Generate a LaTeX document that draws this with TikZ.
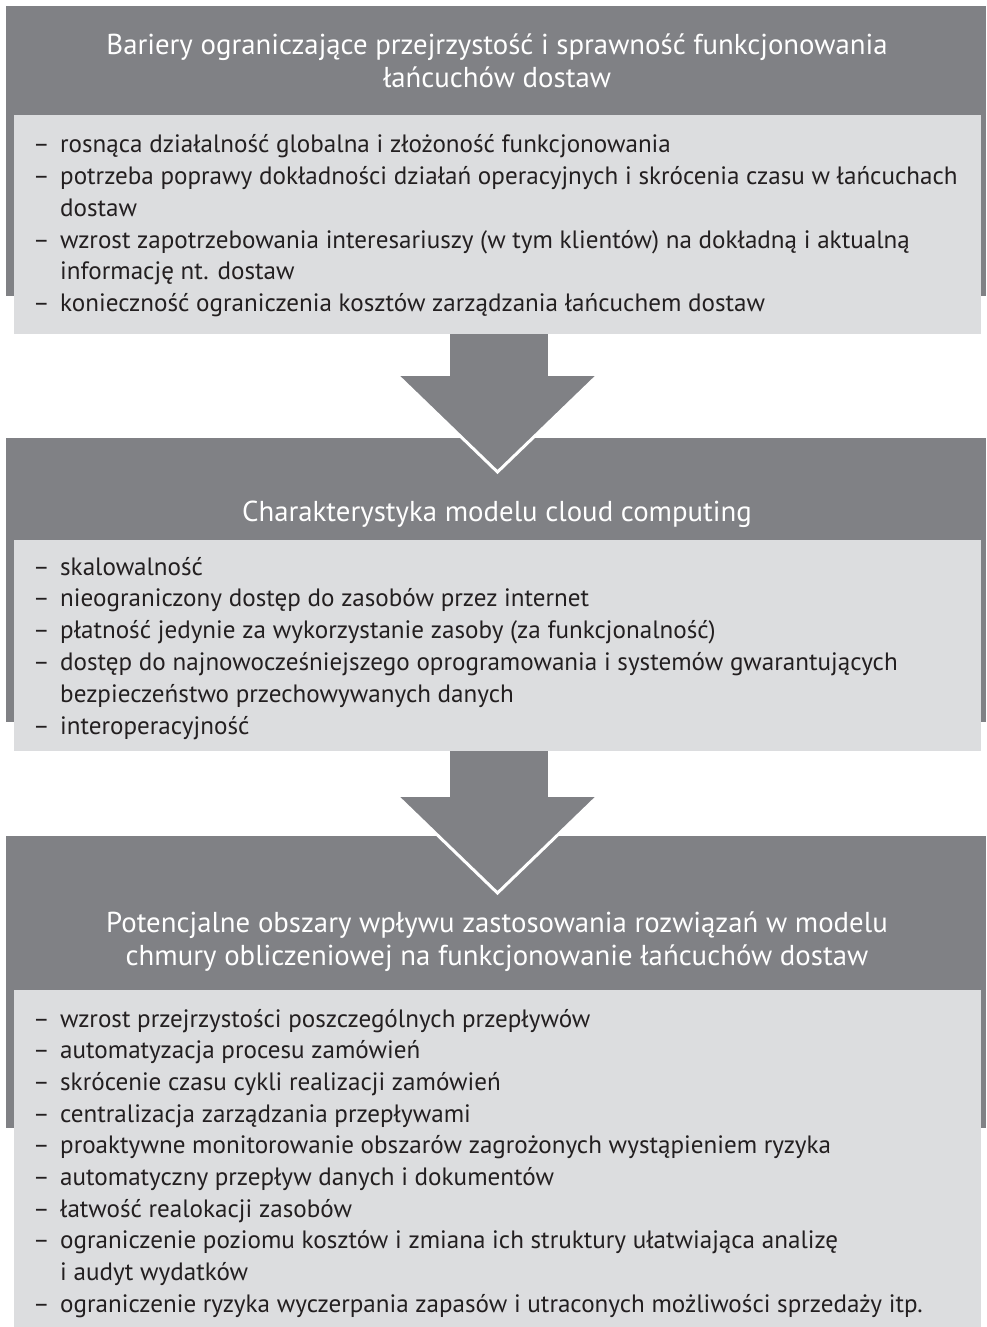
\documentclass[tikz,border=0pt]{standalone}
\usepackage{fontspec}
\setmainfont{PT Sans}
\definecolor{darkband}{RGB}{128,129,133}
\definecolor{lightbox}{RGB}{220,221,223}
\definecolor{bodytext}{RGB}{35,31,32}
\newcommand\dsh{\makebox[27pt][l]{–}}
\begin{document}
\begin{tikzpicture}[x=1pt,y=-1pt,
  band/.style={fill=darkband},
  panel/.style={fill=lightbox},
  head/.style={text=white, font=\fontsize{28.8}{33}\selectfont, inner sep=0pt, anchor=base},
  itm/.style={text=bodytext, font=\fontsize{25.1}{32}\selectfont, inner sep=0pt, anchor=base west},
  arrowedge/.style={draw=white, line width=3pt}
]
\useasboundingbox (0,0) rectangle (986,1327);
% ---------- block 1
\fill[band] (6,6) rectangle (986,296);
\fill[panel] (14,115) rectangle (981,334);
\node[head] (h1a) at (497,54.5) {Bariery ograniczające przejrzystość i sprawność funkcjonowania};
\node[head] (h1b) at (497,87.5) {łańcuchów dostaw};
\node[itm] (a1) at (33,153) {\dsh rosnąca działalność globalna i złożoność funkcjonowania};
\node[itm] (a2) at (33,184.7) {\dsh potrzeba poprawy dokładności działań operacyjnych i skrócenia czasu w łańcuchach};
\node[itm] (a2c) at (60,216.4) {dostaw};
\node[itm] (a3) at (33,248.1) {\dsh wzrost zapotrzebowania interesariuszy (w tym klientów) na dokładną i aktualną};
\node[itm] (a3c) at (60,279.8) {informację nt. dostaw};
\node[itm] (a4) at (33,311.5) {\dsh konieczność ograniczenia kosztów zarządzania łańcuchem dostaw};
% ---------- block 2
\fill[band] (6,438) rectangle (986,722);
\fill[panel] (14,540) rectangle (981,751);
\node[head] (h2) at (497,521) {Charakterystyka modelu cloud computing};
\node[itm] (b1) at (33,575) {\dsh skalowalność};
\node[itm] (b2) at (33,606.8) {\dsh nieograniczony dostęp do zasobów przez internet};
\node[itm] (b3) at (33,638.6) {\dsh płatność jedynie za wykorzystanie zasoby (za funkcjonalność)};
\node[itm] (b4) at (33,670.4) {\dsh dostęp do najnowocześniejszego oprogramowania i systemów gwarantujących};
\node[itm] (b4c) at (60,702.2) {bezpieczeństwo przechowywanych danych};
\node[itm] (b5) at (33,734) {\dsh interoperacyjność};
% ---------- block 3
\fill[band] (6,836) rectangle (986,1128);
\fill[panel] (14,990) rectangle (981,1327);
\node[head] (h3a) at (497,932) {Potencjalne obszary wpływu zastosowania rozwiązań w modelu};
\node[head] (h3b) at (497,965) {chmury obliczeniowej na funkcjonowanie łańcuchów dostaw};
\node[itm] (c1) at (33,1027) {\dsh wzrost przejrzystości poszczególnych przepływów};
\node[itm] (c2) at (33,1058.7) {\dsh automatyzacja procesu zamówień};
\node[itm] (c3) at (33,1090.3) {\dsh skrócenie czasu cykli realizacji zamówień};
\node[itm] (c4) at (33,1122) {\dsh centralizacja zarządzania przepływami};
\node[itm] (c5) at (33,1153.7) {\dsh proaktywne monitorowanie obszarów zagrożonych wystąpieniem ryzyka};
\node[itm] (c6) at (33,1185.3) {\dsh automatyczny przepływ danych i dokumentów};
\node[itm] (c7) at (33,1217) {\dsh łatwość realokacji zasobów};
\node[itm] (c8) at (33,1248.7) {\dsh ograniczenie poziomu kosztów i zmiana ich struktury ułatwiająca analizę};
\node[itm] (c8c) at (60,1280.3) {i audyt wydatków};
\node[itm] (c9) at (33,1312) {\dsh ograniczenie ryzyka wyczerpania zapasów i utraconych możliwości sprzedaży itp.};
% ---------- arrows
\fill[band] (450,334) rectangle (548,378);
\fill[band] (398,376) -- (597,376) -- (497.5,472) -- cycle;
\draw[arrowedge] (398,376) -- (497.5,472) -- (597,376);
\fill[band] (450,751) rectangle (548,799);
\fill[band] (398,797) -- (597,797) -- (497.5,893) -- cycle;
\draw[arrowedge] (398,797) -- (497.5,893) -- (597,797);
\end{tikzpicture}
\end{document}
